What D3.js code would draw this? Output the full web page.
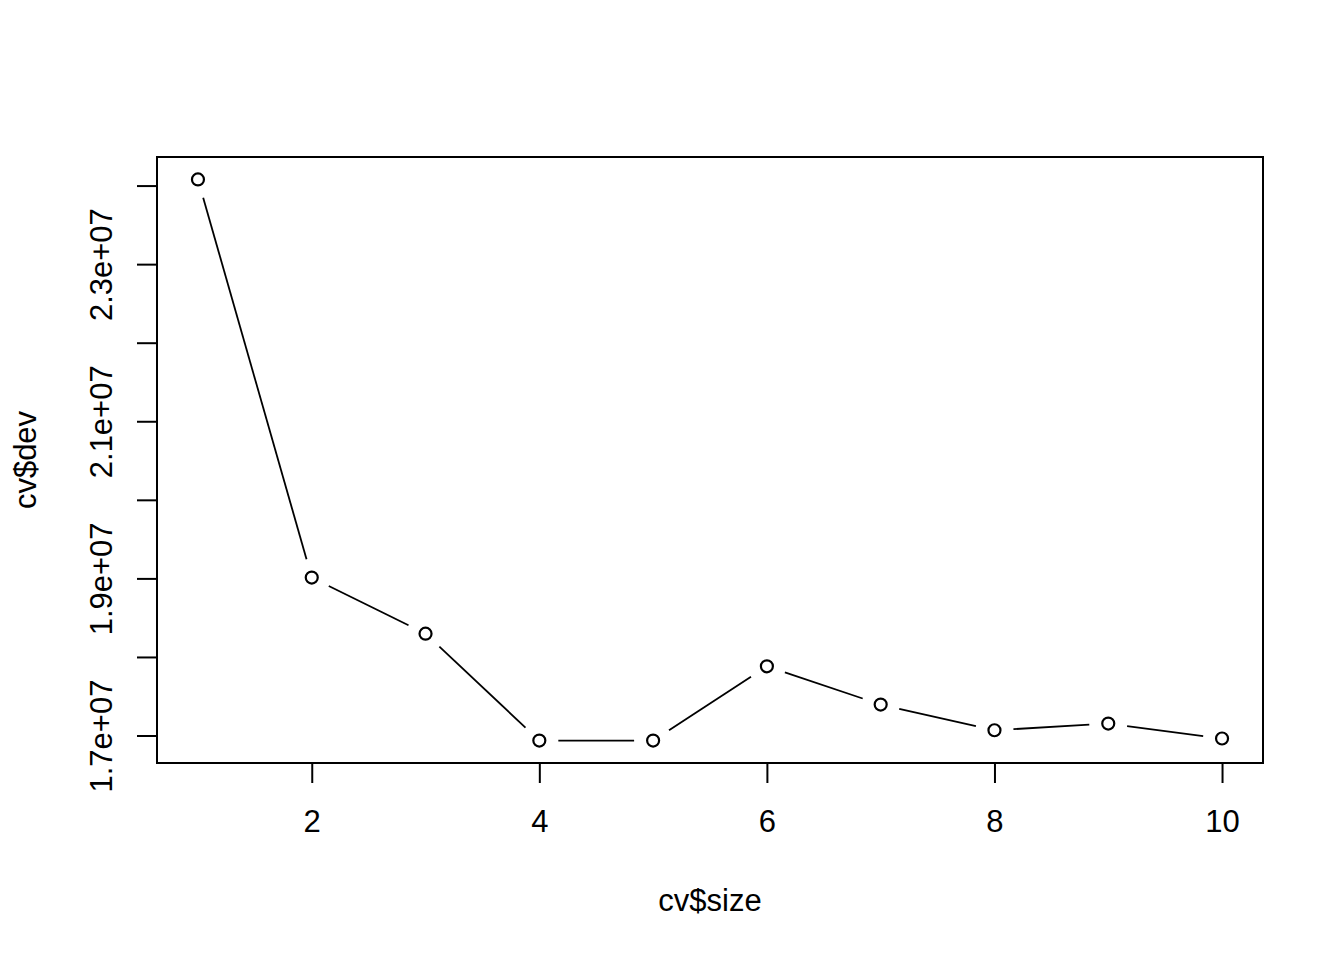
<!DOCTYPE html>
<html>
<head>
<meta charset="utf-8">
<script src="https://cdn.jsdelivr.net/npm/d3@7"></script>
<style>
  body { margin: 0; background: #fff; }
  text { font-family: "Liberation Sans", Arial, sans-serif; fill: #000; }
</style>
</head>
<body>
<div id="chart"></div>
<script>
// data
var sizes = [1, 2, 3, 4, 5, 6, 7, 8, 9, 10];
var devs = [2.4078e7, 1.9011e7, 1.8296e7, 1.6936e7, 1.6936e7, 1.7881e7, 1.7394e7, 1.7067e7, 1.7152e7, 1.6962e7];
var xTicks = [2, 4, 6, 8, 10];
var yTicks = [1.7e7, 1.8e7, 1.9e7, 2.0e7, 2.1e7, 2.2e7, 2.3e7, 2.4e7];
var yLabels = ["1.7e+07", "", "1.9e+07", "", "2.1e+07", "", "2.3e+07", ""];
var xTitle = "cv$size", yTitle = "cv$dev";

var W = 1344, H = 960;
var pLeft = 157, pRight = 1263, pTop = 157, pBottom = 763;
var fs = 31;

var data = sizes.map(function(s, i) { return {size: s, dev: devs[i]}; });

// R style 4% range extension
function ext(a) {
  var e = d3.extent(a), d = (e[1] - e[0]) * 0.04;
  return [e[0] - d, e[1] + d];
}

var x = d3.scaleLinear().domain(ext(sizes)).range([pLeft, pRight]);
var y = d3.scaleLinear().domain(ext(devs)).range([pBottom, pTop]);

var svg = d3.select("#chart").append("svg")
    .attr("width", W)
    .attr("height", H);

// box
svg.append("rect")
    .attr("x", pLeft).attr("y", pTop)
    .attr("width", pRight - pLeft).attr("height", pBottom - pTop)
    .attr("fill", "none").attr("stroke", "#000").attr("stroke-width", 2);

// x axis
var xAxis = svg.append("g")
    .attr("transform", "translate(0," + pBottom + ")")
    .call(d3.axisBottom(x).tickValues(xTicks).tickSize(20).tickPadding(27).tickFormat(d3.format("d")));
xAxis.select(".domain").remove();
xAxis.selectAll("line").attr("stroke-width", 2);
xAxis.selectAll("text").attr("font-size", fs).attr("font-family", "Liberation Sans, Arial, sans-serif");

// y axis
var yAxis = svg.append("g")
    .attr("transform", "translate(" + pLeft + ",0)")
    .call(d3.axisLeft(y).tickValues(yTicks).tickSize(20).tickFormat(function(d, i) { return yLabels[i]; }));
yAxis.select(".domain").remove();
yAxis.selectAll("line").attr("stroke-width", 2);
yAxis.selectAll("text")
    .attr("font-size", fs)
    .attr("font-family", "Liberation Sans, Arial, sans-serif")
    .attr("text-anchor", "middle")
    .attr("dy", null)
    .attr("x", null)
    .attr("transform", "translate(-56,0) rotate(-90)")
    .attr("dominant-baseline", "central");

// titles
svg.append("text")
    .attr("x", (pLeft + pRight) / 2).attr("y", 911)
    .attr("text-anchor", "middle").attr("font-size", fs)
    .text(xTitle);
svg.append("text")
    .attr("transform", "translate(36," + ((pTop + pBottom) / 2) + ") rotate(-90)")
    .attr("text-anchor", "middle").attr("font-size", fs)
    .text(yTitle);

// type = "b": segments with gaps around points
var gap = 19;
var segs = d3.pairs(data).map(function(p) {
  var x0 = x(p[0].size), y0 = y(p[0].dev), x1 = x(p[1].size), y1 = y(p[1].dev);
  var dx = x1 - x0, dy = y1 - y0, len = Math.sqrt(dx * dx + dy * dy);
  var ux = dx / len, uy = dy / len;
  return [x0 + ux * gap, y0 + uy * gap, x1 - ux * gap, y1 - uy * gap];
});
svg.append("g").selectAll("line")
    .data(segs)
    .enter().append("line")
    .attr("x1", function(d) { return d[0]; })
    .attr("y1", function(d) { return d[1]; })
    .attr("x2", function(d) { return d[2]; })
    .attr("y2", function(d) { return d[3]; })
    .attr("stroke", "#000").attr("stroke-width", 1.8);

svg.append("g").selectAll("circle")
    .data(data)
    .enter().append("circle")
    .attr("cx", function(d) { return x(d.size); })
    .attr("cy", function(d) { return y(d.dev); })
    .attr("r", 6)
    .attr("fill", "none").attr("stroke", "#000").attr("stroke-width", 2.2);
</script>
</body>
</html>
